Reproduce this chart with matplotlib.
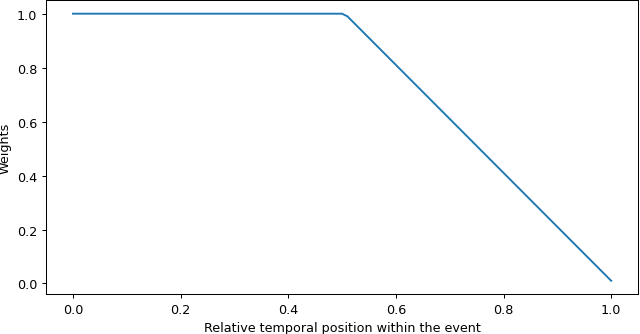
import matplotlib.pyplot as plt

# weight curve
pos = [0.0, 0.5, 0.51, 1.0]
weights = [1.0, 1.0, 0.99, 0.01]

fig, ax = plt.subplots(figsize=(7, 3.664), dpi=91.43)
ax.plot(pos, weights, color='#1f77b4')
ax.set_xlabel('Relative temporal position within the event')
ax.set_ylabel('Weights')
fig.subplots_adjust(left=0.072, right=0.997, top=0.996, bottom=0.119)
fig.savefig('out.png')
